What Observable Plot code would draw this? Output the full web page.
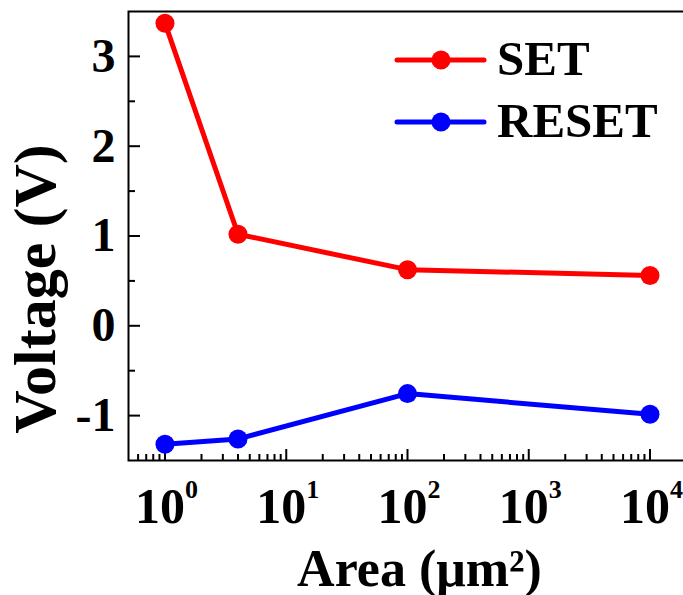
<!DOCTYPE html>
<html><head><meta charset="utf-8">
<script src="https://cdn.jsdelivr.net/npm/d3@7"></script>
<script src="https://cdn.jsdelivr.net/npm/@observablehq/plot@0.6"></script>
<style>
html,body{margin:0;padding:0;background:#fff;}
#chart{position:relative;width:683px;height:595px;overflow:hidden;}
#legend{position:absolute;left:0;top:0;}
</style></head><body><div id="chart"></div>
<script>
// ---- data ----
const areas = [1, 4, 100, 10000];
const setVoltage = [3.37, 1.02, 0.625, 0.56];
const resetVoltage = [-1.32, -1.26, -0.755, -0.985];
const seriesNames = ["SET", "RESET"];
const seriesColors = ["#ff0000", "#0000ff"];
const xDomain = [0.5, 20000];
const yDomain = [-1.5, 3.5];
const xMajorTicks = [1, 10, 100, 1000, 10000];
const xTickBase = "10";
const xTickExponents = ["0", "1", "2", "3", "4"];
const yMajorTicks = [-1, 0, 1, 2, 3];
const yMinorTicks = [-0.5, 0.5, 1.5, 2.5];
const xMinorMultipliers = [2, 3, 4, 5, 6, 7, 8, 9];
const xLabel = "Area (μm²)";
const yLabel = "Voltage (V)";

const xMinorTicks = [0.6, 0.7, 0.8, 0.9];
[1, 10, 100, 1000].forEach(dec => xMinorMultipliers.forEach(m => xMinorTicks.push(dec * m)));

const rows = [];
areas.forEach((a, i) => rows.push({series: seriesNames[0], area: a, voltage: setVoltage[i]}));
areas.forEach((a, i) => rows.push({series: seriesNames[1], area: a, voltage: resetVoltage[i]}));

const font = "'Liberation Serif', 'Times New Roman', serif";

const plot = Plot.plot({
  width: 683, height: 595,
  marginLeft: 128, marginTop: 11, marginBottom: 135, marginRight: -3,
  x: {type: "log", domain: xDomain},
  y: {domain: yDomain},
  color: {domain: seriesNames, range: seriesColors},
  style: {fontFamily: font, fontWeight: "bold", background: "#fff", color: "#000"},
  marks: [
    Plot.frame({strokeWidth: 2}),
    Plot.axisY(yMajorTicks, {tickSize: -12, fill: "none", strokeWidth: 2, label: null}),
    Plot.axisY(yMinorTicks, {tickSize: -7, fill: "none", strokeWidth: 2, label: null}),
    Plot.axisY(yMajorTicks, {tickSize: 0, tickPadding: 13, fontSize: 48, fontWeight: "bold", tickFormat: d => String(d), label: null}),
    Plot.axisX(xMajorTicks, {tickSize: -11, fill: "none", strokeWidth: 2, label: null}),
    Plot.axisX(xMinorTicks, {tickSize: -6, fill: "none", strokeWidth: 2, label: null}),
    Plot.text(xMajorTicks, {x: d => d, text: () => xTickBase, frameAnchor: "bottom", dy: 62, dx: 20, textAnchor: "end", lineAnchor: "bottom", fontSize: 50, fontWeight: "bold"}),
    Plot.text(xMajorTicks, {x: d => d, text: (d, i) => xTickExponents[i], frameAnchor: "bottom", dy: 37, dx: 20, textAnchor: "start", lineAnchor: "bottom", fontSize: 26, fontWeight: "bold"}),
    Plot.text([xLabel], {text: d => d, frameAnchor: "bottom", dy: 125, dx: 12, textAnchor: "middle", lineAnchor: "bottom", fontSize: 52, fontWeight: "bold"}),
    Plot.text([yLabel], {text: d => d, frameAnchor: "left", textAnchor: "middle", rotate: -90, dx: -93, dy: 53, fontSize: 60, fontWeight: "bold"}),
    Plot.line(rows, {x: "area", y: "voltage", z: "series", stroke: "series", strokeWidth: 5}),
    Plot.dot(rows, {x: "area", y: "voltage", fill: "series", r: 9.5})
  ]
});
document.getElementById("chart").appendChild(plot);

// legend overlay
const leg = d3.select("#chart").append("svg").attr("id", "legend")
  .attr("width", 683).attr("height", 595);
const legY = [60, 122];
seriesNames.forEach((name, i) => {
  const g = leg.append("g");
  g.append("line").attr("x1", 397).attr("x2", 484).attr("y1", legY[i]).attr("y2", legY[i])
    .attr("stroke", seriesColors[i]).attr("stroke-width", 5).attr("stroke-linecap", "round");
  g.append("circle").attr("cx", 441).attr("cy", legY[i]).attr("r", 9.5).attr("fill", seriesColors[i]);
  g.append("text").attr("x", 497).attr("y", legY[i] + 15).attr("font-family", font)
    .attr("font-weight", "bold").attr("font-size", 49).text(name);
});
</script></body></html>
